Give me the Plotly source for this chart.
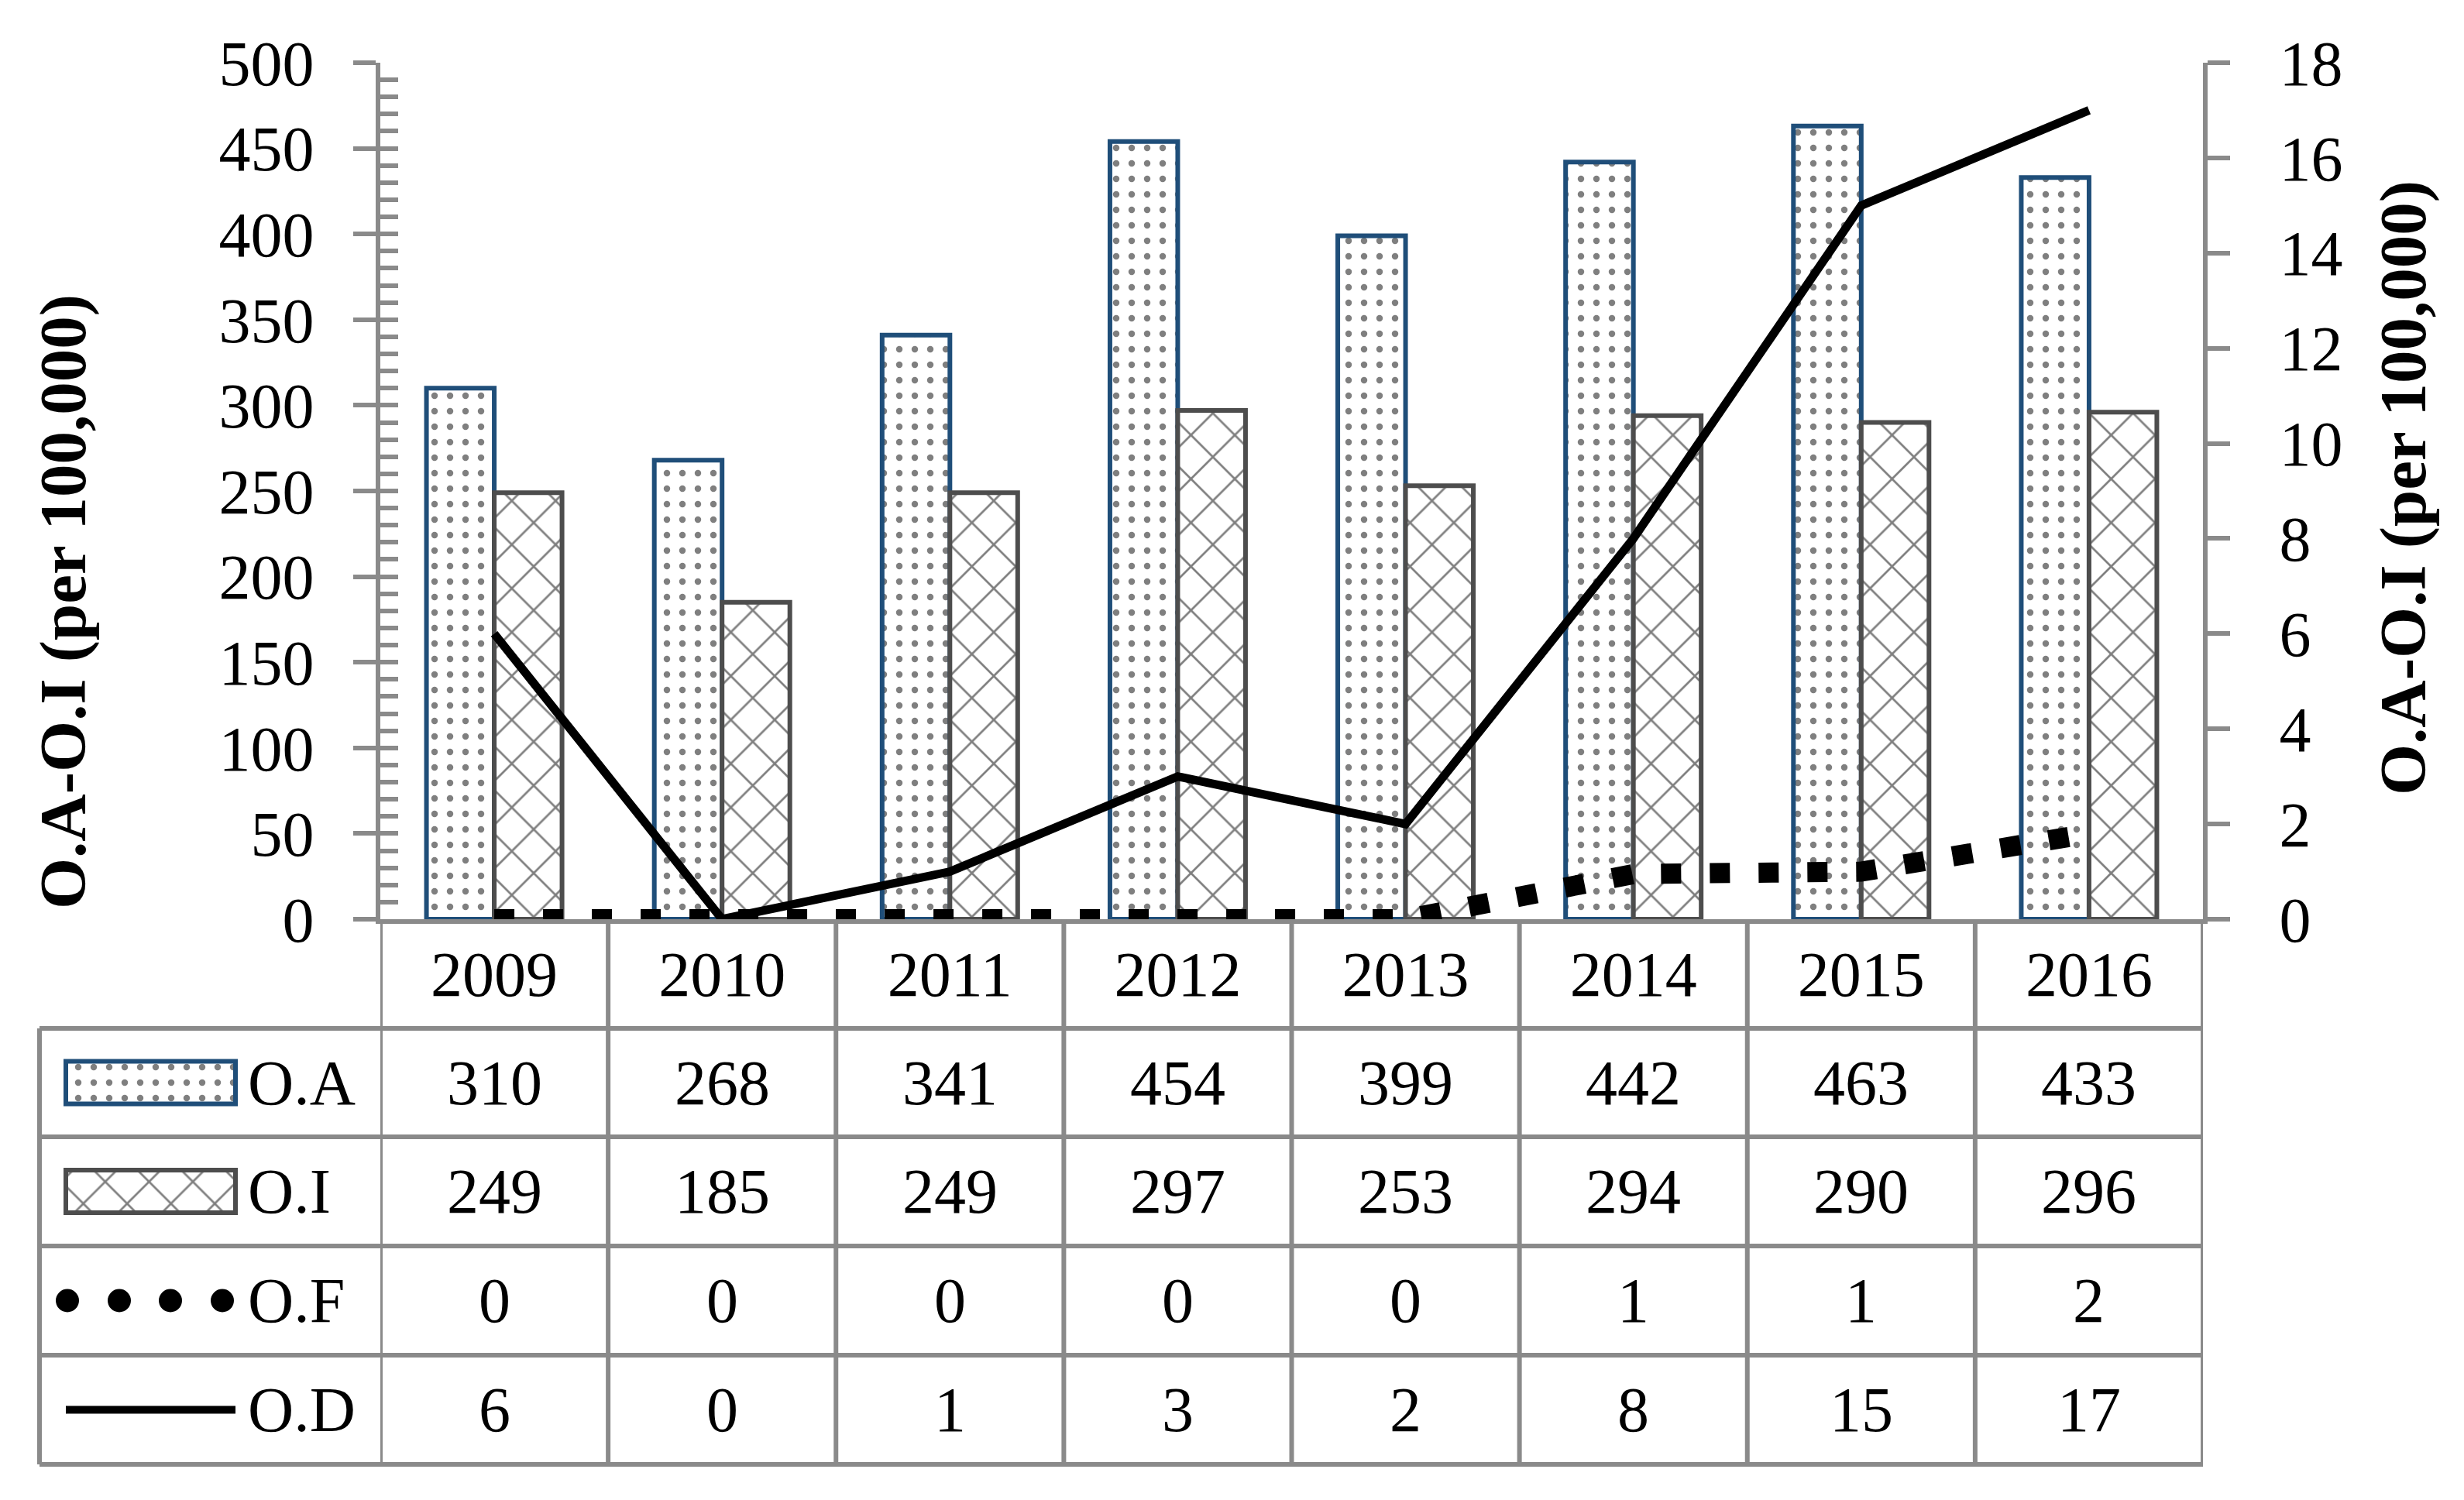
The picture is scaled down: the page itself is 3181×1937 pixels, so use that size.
import plotly.graph_objects as go

# ---------------- data ----------------
years = ["2009", "2010", "2011", "2012", "2013", "2014", "2015", "2016"]
oa = [310, 268, 341, 454, 399, 442, 463, 433]
oi = [249, 185, 249, 297, 253, 294, 290, 296]
of_plot = [0, 0, 0, 0, 0, 0.95, 1.0, 1.8]      # O.F as drawn (right axis)
of_table = [0, 0, 0, 0, 0, 1, 1, 2]            # O.F as printed in table
od = [6, 0, 1, 3, 2, 8, 15, 17]
left_ticks = [0, 50, 100, 150, 200, 250, 300, 350, 400, 450, 500]
right_ticks = [0, 2, 4, 6, 8, 10, 12, 14, 16, 18]
series_names = ["O.A", "O.I", "O.F", "O.D"]
axis_title = "O.A-O.I (per 100,000)"

# ---------------- geometry (page pixels) ----------------
W, H = 3181, 1937
OFF = 8                      # page body margin
FW, FH = W - 2 * OFF, H - 2 * OFF
X0, X1 = 491, 2844          # plot area left/right
Y_TOP, Y_AX = 81, 1187      # plot area top / x-axis
ROWS = [1187, 1328, 1468, 1609, 1750, 1891]   # table row edges
TABLE_L = 51


def px(x):
    return (x - OFF) / FW


def py(y):
    return 1 - (y - OFF) / FH


GRAY = "#8a8a8a"
BLUE = "#1f4e79"
DGRAY = "#4d4d4d"
FONT = "Palatino Linotype, Book Antiqua, Palatino, Liberation Serif, serif"
FS = 82
LW = 6
DOT_PAT = dict(shape=".", size=20, solidity=0.14)
X_PAT = dict(shape="x", size=40, solidity=0.13)

fig = go.Figure()

# bars
fig.add_trace(go.Bar(
    x=years, y=oa, name=series_names[0], xaxis="x", yaxis="y",
    marker=dict(color="white",
                line=dict(color=BLUE, width=LW),
                pattern=dict(fgcolor="black", bgcolor="white", **DOT_PAT)),
))
fig.add_trace(go.Bar(
    x=years, y=oi, name=series_names[1], xaxis="x", yaxis="y",
    marker=dict(color="white",
                line=dict(color=DGRAY, width=LW),
                pattern=dict(fgcolor="black", bgcolor="white", **X_PAT)),
))
# lines on right axis
fig.add_trace(go.Scatter(
    x=years, y=of_plot, name=series_names[2], xaxis="x", yaxis="y2",
    mode="lines", line=dict(color="black", width=26, dash="26px,37px"),
))
fig.add_trace(go.Scatter(
    x=years, y=od, name=series_names[3], xaxis="x", yaxis="y2",
    mode="lines", line=dict(color="black", width=11),
))

# ---------------- legend samples inside table (own small subplot) ----------------
row_h = [ROWS[-1] - r for r in ROWS]           # heights from bottom of table
centers = [(row_h[i + 1] + row_h[i + 2]) / 2 for i in range(4)]
sample_x0, sample_x1 = 34, 253
fig.add_trace(go.Bar(
    y=[centers[0], centers[1]], x=[sample_x1 - sample_x0] * 2, base=[sample_x0] * 2,
    orientation="h", width=55, xaxis="x3", yaxis="y3",
    marker=dict(color="white",
                line=dict(color=[BLUE, DGRAY], width=LW),
                pattern=dict(shape=[DOT_PAT["shape"], X_PAT["shape"]],
                             fgcolor="black", bgcolor="white",
                             size=[DOT_PAT["size"], X_PAT["size"]],
                             solidity=[DOT_PAT["solidity"], X_PAT["solidity"]])),
))
fig.add_trace(go.Scatter(
    x=[36, 103, 169, 236], y=[centers[2]] * 4, xaxis="x3", yaxis="y3",
    mode="markers", marker=dict(color="black", size=30),
))
fig.add_trace(go.Scatter(
    x=[sample_x0, sample_x1], y=[centers[3]] * 2, xaxis="x3", yaxis="y3",
    mode="lines", line=dict(color="black", width=10),
))

annotations = []
for i, nm in enumerate(series_names):
    annotations.append(dict(x=267, y=centers[i], xref="x3", yref="y3", text=nm,
                            showarrow=False, xanchor="left", yanchor="middle",
                            font=dict(family=FONT, size=FS, color="black")))

# table numbers
table_vals = [oa, oi, of_table, od]
for r, vals in enumerate(table_vals):
    yc = py((ROWS[r + 1] + ROWS[r + 2]) / 2)
    for j in range(len(years)):
        annotations.append(dict(x=j, y=yc, xref="x", yref="paper", text=str(vals[j]),
                                showarrow=False, xanchor="center", yanchor="middle",
                                font=dict(family=FONT, size=FS, color="black")))

# axis titles
annotations.append(dict(x=px(81), y=py(777), xref="paper", yref="paper",
                        text="<b>" + axis_title + "</b>", textangle=-90, showarrow=False,
                        xanchor="center", yanchor="middle",
                        font=dict(family=FONT, size=85, color="black")))
annotations.append(dict(x=px(3103), y=py(630), xref="paper", yref="paper",
                        text="<b>" + axis_title + "</b>", textangle=-90, showarrow=False,
                        xanchor="center", yanchor="middle",
                        font=dict(family=FONT, size=85, color="black")))

# table lines
shapes = []
for k in range(len(years) + 1):
    shapes.append(dict(type="line", xref="x", yref="paper", x0=k - 0.5, x1=k - 0.5,
                       y0=py(ROWS[0]), y1=py(ROWS[-1]), line=dict(color=GRAY, width=LW)))
shapes.append(dict(type="line", xref="paper", yref="paper", x0=px(TABLE_L), x1=px(TABLE_L),
                   y0=py(ROWS[1]), y1=py(ROWS[-1]), line=dict(color=GRAY, width=LW)))
for r in ROWS[1:]:
    shapes.append(dict(type="line", xref="paper", yref="paper", x0=px(TABLE_L), x1=px(X1),
                       y0=py(r), y1=py(r), line=dict(color=GRAY, width=LW)))

fig.update_layout(
    width=FW, height=FH,
    margin=dict(l=0, r=0, t=0, b=0),
    paper_bgcolor="white", plot_bgcolor="rgba(0,0,0,0)",
    showlegend=False,
    barmode="group", bargap=0.405, bargroupgap=0,
    font=dict(family=FONT, size=FS, color="black"),
    xaxis=dict(domain=[px(X0), px(X1)], anchor="y", type="category",
               range=[-0.5, len(years) - 0.5],
               showline=True, linecolor=GRAY, linewidth=LW,
               ticks="", showgrid=False, zeroline=False,
               tickfont=dict(family=FONT, size=FS, color="black"),
               ticklabelstandoff=-5, automargin=False),
    yaxis=dict(domain=[py(Y_AX), py(Y_TOP)], anchor="x", range=[0, 500],
               tickvals=left_ticks, ticks="outside", ticklen=29, tickwidth=LW,
               tickcolor=GRAY, showline=True, linecolor=GRAY, linewidth=LW,
               showgrid=False, zeroline=False,
               tickfont=dict(family=FONT, size=FS, color="black"),
               ticklabelstandoff=34, automargin=False),
    yaxis4=dict(overlaying="y", side="left", anchor="x", range=[0, 500],
                tick0=0, dtick=10, ticks="inside", ticklen=23, tickwidth=LW,
                tickcolor=GRAY, showticklabels=False, showline=False,
                showgrid=False, zeroline=False, automargin=False),
    yaxis2=dict(overlaying="y", anchor="x", side="right", range=[0, 18],
                tickvals=right_ticks, ticks="outside", ticklen=29, tickwidth=LW,
                tickcolor=GRAY, showline=True, linecolor=GRAY, linewidth=LW,
                showgrid=False, zeroline=False,
                tickfont=dict(family=FONT, size=FS, color="black"),
                ticklabelstandoff=47, automargin=False),
    xaxis3=dict(domain=[px(TABLE_L), px(X0)], anchor="y3", range=[0, X0 - TABLE_L],
                visible=False, fixedrange=True),
    yaxis3=dict(domain=[py(ROWS[-1]), py(ROWS[1])], anchor="x3",
                range=[0, ROWS[-1] - ROWS[1]], visible=False, fixedrange=True),
    annotations=annotations,
    shapes=shapes,
)
# render the minor-tick overlay axis
fig.add_trace(go.Scatter(x=[years[0]], y=[None], xaxis="x", yaxis="y4",
                         mode="markers", showlegend=False, hoverinfo="skip"))

fig.write_html("out.html")
